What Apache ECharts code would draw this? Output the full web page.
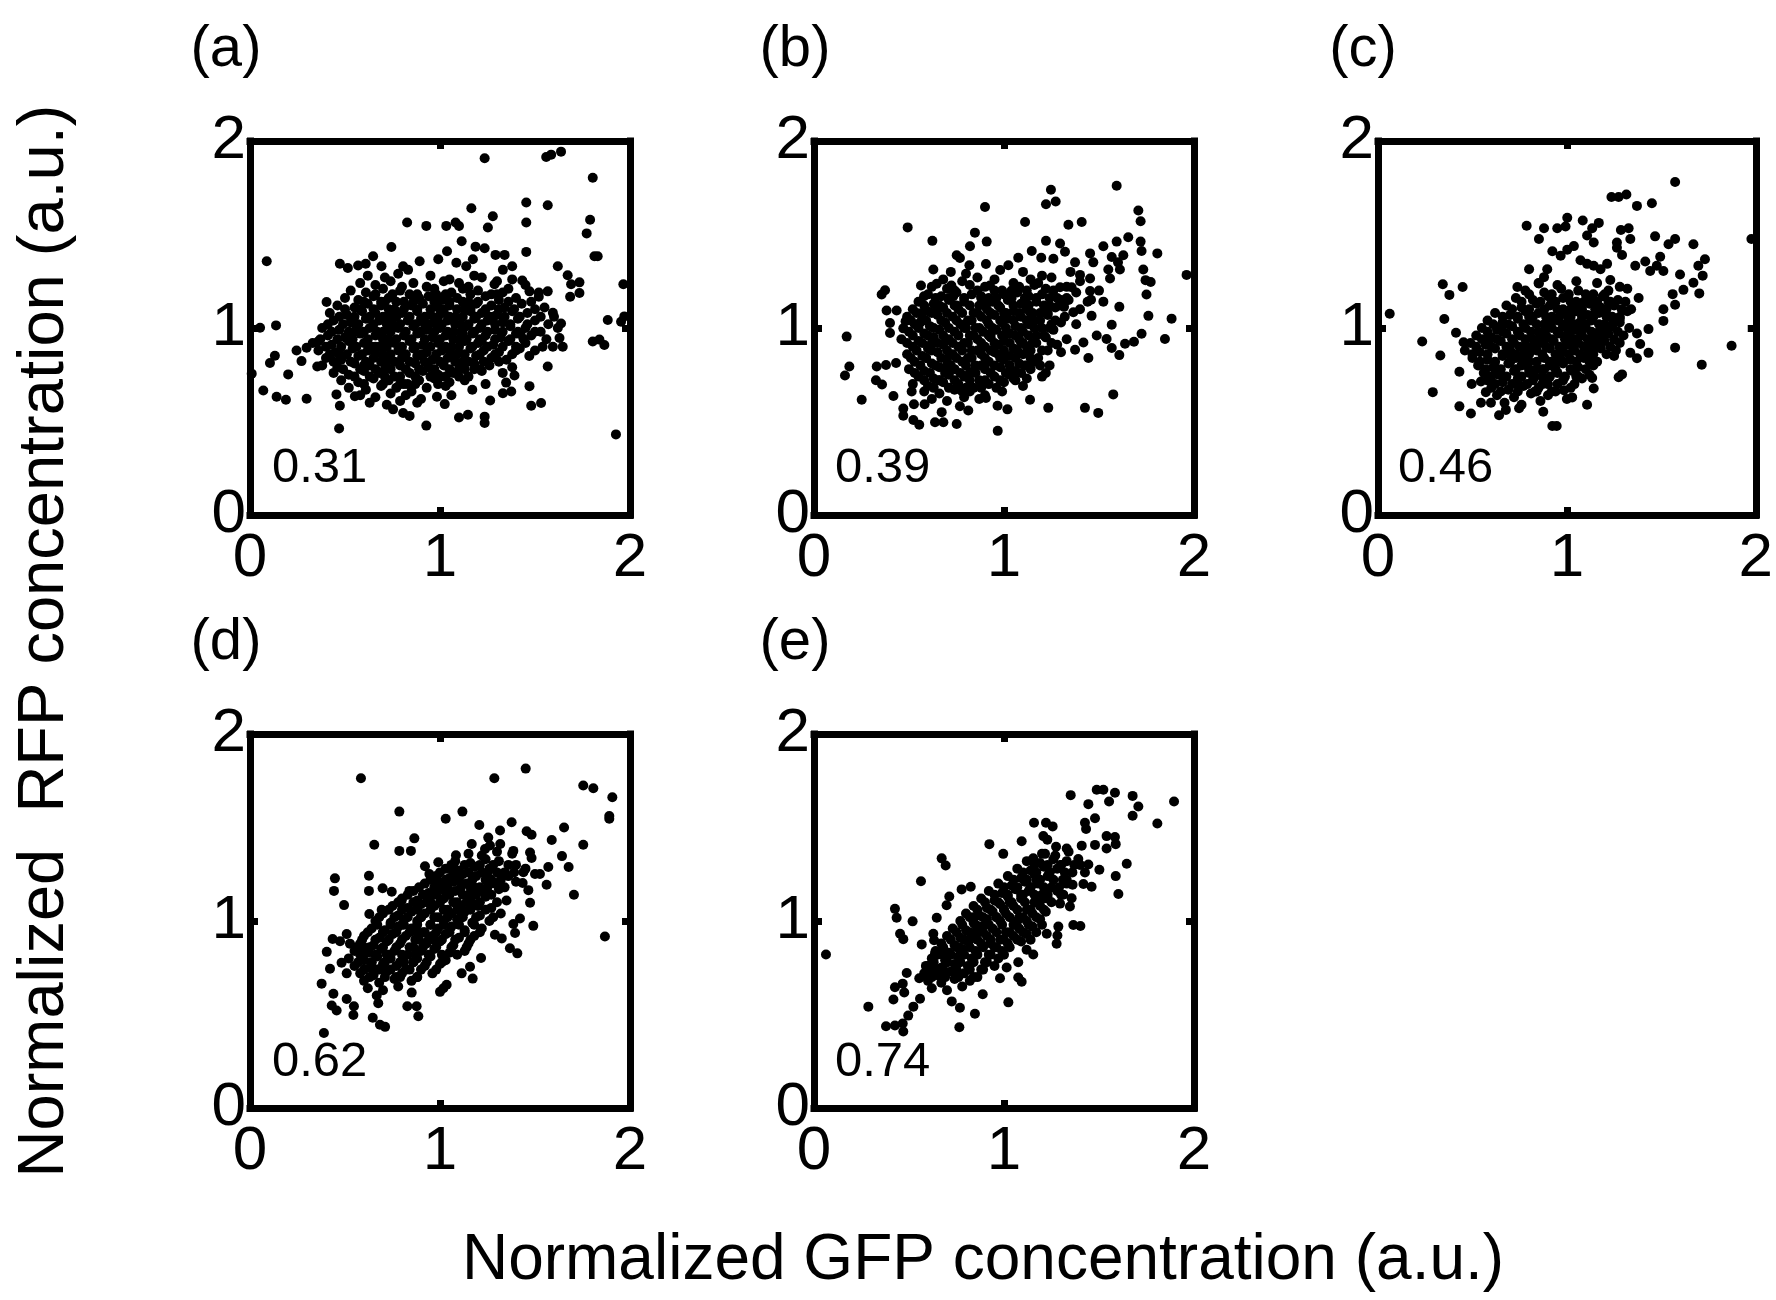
<!DOCTYPE html>
<html>
<head>
<meta charset="utf-8">
<script src="https://cdn.jsdelivr.net/npm/echarts@6/dist/echarts.min.js"></script>
<style>
html,body{margin:0;padding:0;background:#fff;}
#chart{width:1776px;height:1300px;}
</style>
</head>
<body>
<div id="chart"></div>
<script>
// ---------------- DATA ----------------
const panelLabels = ['(a)', '(b)', '(c)', '(d)', '(e)'];
const corrLabels = ['0.31', '0.39', '0.46', '0.62', '0.74'];
const xTitle = 'Normalized GFP concentration (a.u.)';
const yTitle = 'Normalized  RFP concentration (a.u.)';

const pointsA = [
[1.235,1.908],[1.559,1.914],[1.585,1.927],[1.637,1.943],[1.804,1.803],[1.454,1.671],[1.567,1.656],[1.165,1.640],[1.278,1.598],[1.252,1.537],
[0.827,1.564],[0.928,1.546],[1.033,1.546],[1.082,1.564],[1.100,1.545],[1.454,1.564],[1.790,1.579],[1.772,1.506],[1.114,1.464],[0.744,1.433],
[1.454,1.407],[1.813,1.384],[1.830,1.384],[1.187,1.435],[1.235,1.426],[0.088,1.357],[1.292,1.391],[1.340,1.391],[1.037,1.410],[0.991,1.368],
[0.893,1.357],[0.648,1.384],[0.609,1.344],[0.569,1.334],[0.515,1.321],[0.473,1.344],[0.692,1.330],[0.806,1.330],[0.832,1.311],[1.086,1.349],
[1.138,1.330],[1.173,1.368],[1.620,1.330],[1.672,1.282],[1.734,1.244],[1.690,1.234],[1.965,1.234],[1.567,1.196],[1.734,1.187],[1.685,1.167],
[1.520,1.167],[1.471,1.196],[1.433,1.254],[1.380,1.330],[1.331,1.311],[1.287,1.234],[0.403,1.139],[1.883,1.043],[1.970,1.062],[1.953,1.033],
[1.804,0.928],[1.839,0.938],[1.865,0.909],[0.053,1.001],[0.137,1.014],[0.131,0.852],[0.105,0.813],[0.009,0.756],[0.201,0.752],[0.070,0.666],
[0.140,0.632],[0.189,0.616],[0.298,0.622],[0.245,0.880],[0.271,0.823],[0.298,0.894],[0.354,0.794],[0.359,0.928],[0.469,0.463],[0.455,0.645],
[0.473,0.584],[0.552,0.635],[0.928,0.478],[1.100,0.521],[1.147,0.536],[1.235,0.526],[1.235,0.492],[1.926,0.431],[0.840,0.530],[0.806,0.545],
[0.753,0.565],[1.025,0.593],[0.984,0.632],[1.264,0.612],[1.331,0.651],[1.375,0.660],[1.480,0.584],[1.532,0.599],[1.471,0.689],[1.567,0.794],
[1.594,0.900],[1.646,0.900],[1.629,0.947],[1.637,1.024],[1.594,1.081],[1.348,0.708],[1.392,0.746],[1.424,0.967],
[0.62,1.28],[0.71,1.27],[0.78,1.29],[0.95,1.28],[1.05,1.26],[1.18,1.28],[1.22,1.27],[1.38,1.26],
[0.58,1.24],[0.66,1.23],[0.74,1.25],[0.86,1.24],[0.93,1.22],[1.02,1.25],[1.10,1.24],[1.15,1.22],[1.30,1.25],[1.45,1.23],
[0.53,1.20],[0.61,1.19],[0.70,1.21],[0.79,1.20],[0.84,1.18],[0.97,1.21],[1.06,1.19],[1.12,1.21],[1.20,1.20],[1.27,1.18],[1.36,1.21],[1.52,1.19],
[0.50,1.16],[0.57,1.15],[0.65,1.17],[0.73,1.16],[0.81,1.14],[0.89,1.16],[0.94,1.17],[1.01,1.15],[1.09,1.16],[1.15,1.14],[1.24,1.17],[1.31,1.15],[1.40,1.16],[1.48,1.14],
[0.46,1.12],[0.55,1.11],[0.62,1.13],[0.69,1.12],[0.76,1.10],[0.85,1.12],[0.91,1.13],[0.99,1.11],[1.05,1.12],[1.13,1.10],[1.19,1.13],[1.27,1.12],[1.34,1.11],[1.43,1.13],[1.55,1.11],
[0.42,1.08],[0.51,1.07],[0.59,1.09],[0.66,1.08],[0.72,1.06],[0.80,1.08],[0.88,1.09],[0.95,1.07],[1.02,1.08],[1.08,1.06],[1.16,1.09],[1.22,1.08],[1.30,1.07],[1.38,1.09],[1.46,1.08],[1.60,1.06],
[0.44,1.04],[0.53,1.03],[0.61,1.05],[0.68,1.04],[0.75,1.02],[0.83,1.04],[0.90,1.05],[0.97,1.03],[1.04,1.04],[1.11,1.02],[1.18,1.05],[1.25,1.04],[1.33,1.03],[1.41,1.05],[1.50,1.04],[1.57,1.02],
[0.38,1.00],[0.47,0.99],[0.56,1.01],[0.63,1.00],[0.70,0.98],[0.78,1.00],[0.86,1.01],[0.93,0.99],[1.00,1.00],[1.07,0.98],[1.14,1.01],[1.21,1.00],[1.29,0.99],[1.37,1.01],[1.45,1.00],[1.53,0.98],[1.62,1.00],
[0.41,0.96],[0.50,0.95],[0.58,0.97],[0.66,0.96],[0.73,0.94],[0.81,0.96],[0.88,0.97],[0.96,0.95],[1.03,0.96],[1.10,0.94],[1.17,0.97],[1.24,0.96],[1.32,0.95],[1.40,0.97],[1.48,0.96],[1.56,0.94],
[0.33,0.92],[0.43,0.91],[0.52,0.93],[0.60,0.92],[0.68,0.90],[0.76,0.92],[0.84,0.93],[0.91,0.91],[0.99,0.92],[1.06,0.90],[1.13,0.93],[1.20,0.92],[1.28,0.91],[1.36,0.93],[1.45,0.92],[1.54,0.90],
[0.36,0.88],[0.45,0.87],[0.54,0.89],[0.62,0.88],[0.70,0.86],[0.78,0.88],[0.86,0.89],[0.93,0.87],[1.01,0.88],[1.09,0.86],[1.16,0.89],[1.23,0.88],[1.31,0.87],[1.42,0.89],[1.50,0.88],
[0.40,0.84],[0.48,0.83],[0.57,0.85],[0.65,0.84],[0.72,0.82],[0.80,0.84],[0.88,0.85],[0.96,0.83],[1.04,0.84],[1.12,0.82],[1.19,0.85],[1.27,0.84],[1.35,0.83],[1.47,0.85],
[0.38,0.80],[0.46,0.79],[0.55,0.81],[0.63,0.80],[0.71,0.78],[0.79,0.80],[0.87,0.81],[0.94,0.79],[1.02,0.80],[1.10,0.78],[1.18,0.81],[1.26,0.80],[1.38,0.79],
[0.44,0.76],[0.52,0.75],[0.60,0.77],[0.68,0.76],[0.76,0.74],[0.84,0.76],[0.91,0.77],[0.99,0.75],[1.07,0.76],[1.15,0.74],[1.22,0.77],[1.33,0.76],
[0.48,0.72],[0.57,0.71],[0.65,0.73],[0.73,0.72],[0.81,0.70],[0.89,0.72],[0.97,0.73],[1.05,0.71],[1.13,0.72],[1.24,0.70],
[0.52,0.68],[0.61,0.67],[0.69,0.69],[0.77,0.68],[0.85,0.66],[0.93,0.68],[1.03,0.69],[1.17,0.67],
[0.58,0.64],[0.66,0.63],[0.74,0.65],[0.82,0.64],[0.90,0.62],[1.06,0.64],
[0.63,0.60],[0.72,0.59],[0.79,0.61],[0.88,0.60],
[0.55,0.98],[0.74,1.06],[0.90,0.85],[1.12,0.97],[1.28,1.06],[0.66,0.90],[0.98,1.18],[1.18,0.78],[0.83,0.70],[1.40,0.88],
[0.47,0.86],[1.05,0.88],[0.71,1.14],[1.33,1.19],[0.92,1.02],[0.60,0.80],[1.22,0.93],[0.80,1.22],[1.50,1.10],[1.00,0.74],
[0.66,1.18],[0.75,1.18],[0.88,1.18],[1.03,1.18],[1.16,1.18],[1.30,1.18],
[0.60,1.14],[0.69,1.14],[0.77,1.14],[0.86,1.14],[0.97,1.14],[1.05,1.14],[1.12,1.14],[1.20,1.14],[1.36,1.14],
[0.50,1.10],[0.58,1.10],[0.65,1.10],[0.73,1.10],[0.81,1.10],[0.88,1.10],[0.95,1.10],[1.02,1.10],[1.09,1.10],[1.16,1.10],[1.24,1.10],[1.31,1.10],[1.39,1.10],
[0.47,1.06],[0.55,1.06],[0.63,1.06],[0.70,1.06],[0.77,1.06],[0.84,1.06],[0.92,1.06],[0.99,1.06],[1.05,1.06],[1.12,1.06],[1.19,1.06],[1.26,1.06],[1.34,1.06],[1.42,1.06],[1.53,1.06],
[0.41,1.02],[0.49,1.02],[0.57,1.02],[0.65,1.02],[0.72,1.02],[0.79,1.02],[0.87,1.02],[0.94,1.02],[1.01,1.02],[1.08,1.02],[1.15,1.02],[1.22,1.02],[1.29,1.02],[1.37,1.02],[1.46,1.02],
[0.43,0.98],[0.52,0.98],[0.60,0.98],[0.67,0.98],[0.74,0.98],[0.82,0.98],[0.90,0.98],[0.97,0.98],[1.04,0.98],[1.11,0.98],[1.18,0.98],[1.25,0.98],[1.33,0.98],[1.41,0.98],[1.50,0.98],
[0.37,0.94],[0.46,0.94],[0.54,0.94],[0.62,0.94],[0.70,0.94],[0.77,0.94],[0.85,0.94],[0.92,0.94],[1.00,0.94],[1.07,0.94],[1.14,0.94],[1.21,0.94],[1.29,0.94],[1.37,0.94],[1.44,0.94],
[0.40,0.90],[0.48,0.90],[0.56,0.90],[0.64,0.90],[0.72,0.90],[0.80,0.90],[0.87,0.90],[0.95,0.90],[1.03,0.90],[1.10,0.90],[1.17,0.90],[1.25,0.90],[1.33,0.90],[1.40,0.90],
[0.42,0.86],[0.51,0.86],[0.59,0.86],[0.66,0.86],[0.74,0.86],[0.82,0.86],[0.90,0.86],[0.98,0.86],[1.06,0.86],[1.13,0.86],[1.21,0.86],[1.29,0.86],[1.38,0.86],
[0.44,0.82],[0.53,0.82],[0.61,0.82],[0.69,0.82],[0.76,0.82],[0.84,0.82],[0.92,0.82],[1.00,0.82],[1.08,0.82],[1.15,0.82],[1.23,0.82],[1.31,0.82],
[0.49,0.78],[0.58,0.78],[0.66,0.78],[0.74,0.78],[0.82,0.78],[0.89,0.78],[0.97,0.78],[1.05,0.78],[1.13,0.78],[1.21,0.78],
[0.55,0.74],[0.63,0.74],[0.71,0.74],[0.79,0.74],[0.87,0.74],[0.95,0.74],[1.03,0.74],[1.10,0.74],
[0.60,0.70],[0.70,0.70],[0.79,0.70],[0.87,0.70],[0.99,0.70]
];

const pointsB = [
[1.593,1.761],[1.247,1.739],[1.221,1.662],[1.272,1.676],[0.900,1.647],[0.493,1.538],[1.111,1.567],[1.339,1.552],[1.409,1.567],[1.707,1.628],
[1.719,1.571],[0.623,1.466],[0.847,1.510],[0.909,1.462],[0.821,1.437],[1.221,1.466],[1.295,1.452],[1.654,1.485],[1.593,1.462],[1.523,1.437],
[1.719,1.462],[1.807,1.399],[1.724,1.412],[0.751,1.389],[0.768,1.374],[0.905,1.342],[0.818,1.336],[1.146,1.412],[1.196,1.376],[1.260,1.370],
[1.321,1.408],[1.374,1.351],[1.453,1.399],[1.470,1.351],[1.567,1.380],[1.628,1.389],[1.075,1.376],[1.023,1.336],[0.628,1.313],[1.961,1.284],
[1.733,1.313],[1.745,1.256],[1.772,1.246],[1.750,1.179],[1.760,1.065],[1.882,1.050],[1.847,0.941],[1.600,1.351],[1.549,1.313],[1.610,1.313],
[1.558,1.265],[1.453,1.265],[1.453,1.198],[1.458,1.151],[1.461,1.065],[1.400,1.284],[1.295,1.218],[1.356,1.218],[1.316,1.113],[1.365,1.084],
[1.523,1.141],[1.607,1.113],[1.567,1.017],[1.488,0.960],[1.540,0.941],[1.567,0.893],[1.607,0.855],[1.637,0.916],[1.684,0.926],[1.724,0.969],
[1.418,0.922],[1.444,0.840],[1.374,0.884],[1.575,0.645],[1.426,0.573],[1.496,0.546],[1.233,0.573],[1.137,0.616],[0.172,0.954],[0.186,0.794],
[0.163,0.746],[0.251,0.616],[0.374,1.202],[0.356,1.179],[0.382,1.094],[0.435,1.094],[0.400,1.027],[0.400,0.973],[0.470,0.998],[0.482,1.036],
[0.330,0.794],[0.379,0.802],[0.432,0.813],[0.326,0.721],[0.358,0.698],[0.418,0.636],[0.470,0.569],[0.470,0.531],[0.523,0.508],[0.554,0.483],
[0.637,0.496],[0.681,0.496],[0.751,0.487],[0.672,0.550],[0.967,0.450],[1.018,0.565],[0.966,0.584],[0.905,0.626],[0.768,0.582],[0.812,0.559],
[0.526,0.592],[0.582,0.592],[0.514,0.660],[0.563,1.227],[0.579,1.170],[0.646,1.237],[0.567,1.080],[0.646,1.094],[0.723,1.227],[0.733,1.170],[0.926,1.227],
[0.72,1.30],[0.80,1.29],[0.98,1.31],[1.10,1.30],[1.20,1.28],[1.35,1.30],
[0.68,1.26],[0.78,1.25],[0.86,1.27],[0.95,1.26],[1.05,1.24],[1.14,1.26],[1.25,1.27],[1.40,1.25],
[0.62,1.22],[0.70,1.21],[0.82,1.23],[0.90,1.22],[0.99,1.20],[1.08,1.22],[1.16,1.23],[1.22,1.21],[1.33,1.22],[1.50,1.20],
[0.60,1.18],[0.67,1.17],[0.75,1.19],[0.83,1.18],[0.92,1.16],[1.00,1.18],[1.07,1.19],[1.13,1.17],[1.20,1.18],[1.28,1.16],[1.38,1.19],
[0.55,1.14],[0.63,1.13],[0.71,1.15],[0.79,1.14],[0.87,1.12],[0.94,1.14],[1.02,1.15],[1.09,1.13],[1.17,1.14],[1.24,1.12],[1.34,1.15],[1.44,1.14],
[0.52,1.10],[0.60,1.09],[0.68,1.11],[0.76,1.10],[0.84,1.08],[0.91,1.10],[0.98,1.11],[1.05,1.09],[1.12,1.10],[1.19,1.08],[1.27,1.11],[1.40,1.10],
[0.49,1.06],[0.57,1.05],[0.65,1.07],[0.73,1.06],[0.81,1.04],[0.88,1.06],[0.95,1.07],[1.02,1.05],[1.09,1.06],[1.16,1.04],[1.23,1.07],[1.32,1.06],
[0.53,1.02],[0.61,1.01],[0.69,1.03],[0.77,1.02],[0.85,1.00],[0.92,1.02],[0.99,1.03],[1.06,1.01],[1.13,1.02],[1.20,1.00],[1.30,1.03],[1.38,1.02],
[0.50,0.98],[0.58,0.97],[0.66,0.99],[0.74,0.98],[0.82,0.96],[0.89,0.98],[0.96,0.99],[1.03,0.97],[1.10,0.98],[1.17,0.96],[1.26,0.99],
[0.46,0.94],[0.55,0.93],[0.63,0.95],[0.71,0.94],[0.79,0.92],[0.86,0.94],[0.93,0.95],[1.00,0.93],[1.08,0.94],[1.15,0.92],[1.22,0.95],[1.33,0.94],
[0.52,0.90],[0.60,0.89],[0.68,0.91],[0.76,0.90],[0.83,0.88],[0.90,0.90],[0.97,0.91],[1.05,0.89],[1.12,0.90],[1.20,0.88],[1.28,0.91],
[0.49,0.86],[0.57,0.85],[0.65,0.87],[0.73,0.86],[0.81,0.84],[0.88,0.86],[0.95,0.87],[1.03,0.85],[1.10,0.86],[1.18,0.84],[1.30,0.87],
[0.53,0.82],[0.62,0.81],[0.70,0.83],[0.78,0.82],[0.85,0.80],[0.92,0.82],[1.00,0.83],[1.08,0.81],[1.16,0.82],[1.24,0.80],
[0.50,0.78],[0.58,0.77],[0.66,0.79],[0.74,0.78],[0.82,0.76],[0.90,0.78],[0.98,0.79],[1.06,0.77],[1.14,0.78],[1.22,0.76],
[0.55,0.74],[0.63,0.73],[0.71,0.75],[0.79,0.74],[0.87,0.72],[0.95,0.74],[1.03,0.75],[1.12,0.73],[1.20,0.74],
[0.52,0.70],[0.60,0.69],[0.68,0.71],[0.76,0.70],[0.84,0.68],[0.92,0.70],[1.00,0.71],[1.10,0.69],
[0.58,0.66],[0.66,0.65],[0.74,0.67],[0.82,0.66],[0.90,0.64],[0.99,0.66],
[0.62,0.62],[0.70,0.61],[0.79,0.63],[0.87,0.62],
[0.62,0.92],[0.80,1.00],[0.97,0.86],[1.14,1.08],[0.70,0.80],[0.88,1.17],[1.05,0.73],[1.25,1.02],[0.56,1.03],[0.75,1.12],
[0.93,0.97],[1.09,0.92],[0.66,0.72],[1.18,1.24],[0.84,0.77],[1.30,1.15],[0.59,0.84],[1.00,1.08],[0.78,0.66],[1.12,0.80],
[0.74,1.20],[0.86,1.20],[0.95,1.20],[1.04,1.20],[1.12,1.20],[1.26,1.20],
[0.64,1.16],[0.71,1.16],[0.79,1.16],[0.88,1.16],[0.96,1.16],[1.04,1.16],[1.11,1.16],[1.17,1.16],[1.24,1.16],[1.33,1.16],
[0.58,1.12],[0.66,1.12],[0.74,1.12],[0.82,1.12],[0.90,1.12],[0.97,1.12],[1.05,1.12],[1.13,1.12],[1.21,1.12],[1.29,1.12],
[0.54,1.08],[0.62,1.08],[0.70,1.08],[0.78,1.08],[0.86,1.08],[0.93,1.08],[1.01,1.08],[1.08,1.08],[1.15,1.08],[1.23,1.08],
[0.51,1.04],[0.59,1.04],[0.67,1.04],[0.75,1.04],[0.83,1.04],[0.91,1.04],[0.98,1.04],[1.05,1.04],[1.12,1.04],[1.19,1.04],[1.27,1.04],
[0.55,1.00],[0.63,1.00],[0.71,1.00],[0.79,1.00],[0.87,1.00],[0.94,1.00],[1.01,1.00],[1.09,1.00],[1.16,1.00],[1.24,1.00],
[0.52,0.96],[0.60,0.96],[0.68,0.96],[0.76,0.96],[0.84,0.96],[0.92,0.96],[0.99,0.96],[1.06,0.96],[1.13,0.96],[1.21,0.96],
[0.49,0.92],[0.57,0.92],[0.65,0.92],[0.73,0.92],[0.81,0.92],[0.88,0.92],[0.95,0.92],[1.03,0.92],[1.10,0.92],[1.17,0.92],[1.25,0.92],
[0.54,0.88],[0.62,0.88],[0.70,0.88],[0.78,0.88],[0.86,0.88],[0.93,0.88],[1.00,0.88],[1.07,0.88],[1.14,0.88],[1.23,0.88],
[0.51,0.84],[0.59,0.84],[0.67,0.84],[0.75,0.84],[0.83,0.84],[0.90,0.84],[0.98,0.84],[1.06,0.84],[1.14,0.84],
[0.56,0.80],[0.64,0.80],[0.72,0.80],[0.80,0.80],[0.88,0.80],[0.95,0.80],[1.03,0.80],[1.11,0.80],[1.19,0.80],
[0.53,0.76],[0.61,0.76],[0.69,0.76],[0.77,0.76],[0.85,0.76],[0.93,0.76],[1.01,0.76],[1.09,0.76],
[0.58,0.72],[0.66,0.72],[0.74,0.72],[0.82,0.72],[0.90,0.72],[0.98,0.72],[1.06,0.72],
[0.63,0.68],[0.71,0.68],[0.80,0.68],[0.88,0.68],[0.96,0.68]
];

const pointsC = [
[1.573,1.781],[1.236,1.701],[1.274,1.701],[1.315,1.714],[1.371,1.653],[1.450,1.667],[0.787,1.547],[0.879,1.533],[0.852,1.476],[0.949,1.533],
[1.002,1.590],[0.993,1.543],[1.084,1.575],[1.134,1.533],[1.169,1.562],[1.107,1.495],[1.142,1.457],[1.286,1.524],[1.327,1.533],[1.265,1.457],
[1.336,1.476],[1.467,1.490],[1.538,1.448],[1.573,1.476],[1.670,1.448],[1.977,1.476],[0.923,1.410],[0.967,1.387],[1.002,1.419],[1.037,1.438],
[1.265,1.429],[1.292,1.390],[1.494,1.381],[1.476,1.333],[1.415,1.356],[1.362,1.333],[1.441,1.305],[1.511,1.305],[1.731,1.368],[1.696,1.333],
[1.719,1.280],[1.599,1.286],[1.670,1.242],[1.617,1.204],[1.701,1.185],[0.800,1.314],[0.896,1.314],[0.879,1.272],[0.852,1.238],[1.072,1.362],
[1.107,1.343],[1.142,1.333],[1.178,1.314],[1.213,1.343],[1.230,1.257],[0.343,1.234],[0.378,1.177],[0.448,1.219],[0.738,1.219],[0.062,1.076],
[0.351,1.048],[0.234,0.928],[0.413,0.975],[0.330,0.853],[0.453,0.924],[0.290,0.657],[0.431,0.766],[0.431,0.581],[0.492,0.543],[1.573,0.895],
[1.872,0.905],[1.714,0.804],[1.432,0.867],[1.432,0.994],[1.371,0.971],[1.388,0.914],[1.511,1.038],[1.573,1.124],[1.560,1.181],[1.511,1.100],
[1.274,0.737],[1.292,0.752],[1.371,0.838],[1.336,0.867],[0.923,0.476],[0.946,0.476],[0.641,0.533],[0.677,0.562],[0.747,0.571],[0.875,0.552],
[1.107,0.590],[1.142,0.676],[1.134,0.733],[0.545,0.600],[0.598,0.600],[0.496,0.701],[0.545,0.714],[0.571,0.657],[1.028,0.629],[0.984,0.667],
[0.85,1.24],[0.95,1.23],[1.05,1.25],[1.16,1.24],[1.28,1.22],
[0.78,1.20],[0.88,1.19],[0.97,1.21],[1.06,1.20],[1.14,1.18],[1.22,1.20],[1.32,1.21],
[0.73,1.16],[0.82,1.15],[0.90,1.17],[0.98,1.16],[1.05,1.14],[1.12,1.16],[1.19,1.17],[1.27,1.15],[1.38,1.16],
[0.68,1.12],[0.76,1.11],[0.84,1.13],[0.91,1.12],[0.98,1.10],[1.05,1.12],[1.12,1.13],[1.18,1.11],[1.25,1.12],[1.34,1.10],
[0.62,1.08],[0.70,1.07],[0.78,1.09],[0.85,1.08],[0.92,1.06],[0.99,1.08],[1.05,1.09],[1.11,1.07],[1.17,1.08],[1.24,1.06],[1.32,1.09],
[0.58,1.04],[0.66,1.03],[0.74,1.05],[0.81,1.04],[0.88,1.02],[0.95,1.04],[1.01,1.05],[1.07,1.03],[1.13,1.04],[1.20,1.02],[1.28,1.05],
[0.55,1.00],[0.63,0.99],[0.71,1.01],[0.78,1.00],[0.85,0.98],[0.92,1.00],[0.98,1.01],[1.04,0.99],[1.10,1.00],[1.17,0.98],[1.24,1.01],[1.33,1.00],
[0.52,0.96],[0.60,0.95],[0.68,0.97],[0.75,0.96],[0.82,0.94],[0.89,0.96],[0.96,0.97],[1.02,0.95],[1.08,0.96],[1.15,0.94],[1.22,0.97],[1.30,0.96],
[0.49,0.92],[0.57,0.91],[0.65,0.93],[0.72,0.92],[0.79,0.90],[0.86,0.92],[0.93,0.93],[1.00,0.91],[1.06,0.92],[1.13,0.90],[1.20,0.93],[1.28,0.92],
[0.46,0.88],[0.54,0.87],[0.62,0.89],[0.70,0.88],[0.77,0.86],[0.84,0.88],[0.91,0.89],[0.98,0.87],[1.04,0.88],[1.11,0.86],[1.18,0.89],[1.26,0.88],
[0.50,0.84],[0.58,0.83],[0.66,0.85],[0.73,0.84],[0.80,0.82],[0.88,0.84],[0.95,0.85],[1.02,0.83],[1.09,0.84],[1.16,0.82],[1.25,0.85],
[0.53,0.80],[0.61,0.79],[0.69,0.81],[0.76,0.80],[0.84,0.78],[0.91,0.80],[0.98,0.81],[1.06,0.79],[1.14,0.80],
[0.56,0.76],[0.64,0.75],[0.72,0.77],[0.80,0.76],[0.87,0.74],[0.95,0.76],[1.03,0.77],[1.12,0.75],
[0.58,0.72],[0.66,0.71],[0.74,0.73],[0.82,0.72],[0.90,0.70],[0.98,0.72],[1.08,0.73],
[0.60,0.68],[0.69,0.67],[0.77,0.69],[0.85,0.68],[0.94,0.66],[1.02,0.68],
[0.63,0.64],[0.72,0.63],[0.81,0.65],[0.90,0.64],[1.00,0.62],
[0.67,0.60],[0.76,0.59],[0.86,0.61],
[0.70,0.86],[0.88,0.94],[1.02,1.02],[1.16,1.10],[0.62,0.78],[0.80,1.06],[0.95,0.82],[1.10,0.90],[0.74,0.70],[1.22,1.14],
[0.57,0.94],[0.92,1.14],[1.05,0.74],[0.84,0.66],[1.28,1.03],[0.66,1.02],[1.00,0.96],[0.78,0.90],[1.14,0.97],[0.88,0.78],
[0.80,1.18],[0.92,1.18],[1.01,1.18],[1.10,1.18],[1.20,1.18],
[0.76,1.14],[0.86,1.14],[0.94,1.14],[1.02,1.14],[1.09,1.14],[1.16,1.14],[1.23,1.14],[1.31,1.14],
[0.71,1.10],[0.80,1.10],[0.88,1.10],[0.95,1.10],[1.02,1.10],[1.08,1.10],[1.15,1.10],[1.21,1.10],[1.29,1.10],
[0.66,1.06],[0.74,1.06],[0.82,1.06],[0.89,1.06],[0.96,1.06],[1.02,1.06],[1.08,1.06],[1.14,1.06],[1.21,1.06],[1.28,1.06],
[0.61,1.02],[0.69,1.02],[0.77,1.02],[0.84,1.02],[0.91,1.02],[0.98,1.02],[1.04,1.02],[1.10,1.02],[1.17,1.02],[1.24,1.02],
[0.58,0.98],[0.66,0.98],[0.74,0.98],[0.81,0.98],[0.88,0.98],[0.95,0.98],[1.01,0.98],[1.07,0.98],[1.13,0.98],[1.20,0.98],[1.27,0.98],
[0.55,0.94],[0.63,0.94],[0.71,0.94],[0.78,0.94],[0.85,0.94],[0.92,0.94],[0.99,0.94],[1.05,0.94],[1.11,0.94],[1.18,0.94],[1.25,0.94],
[0.52,0.90],[0.60,0.90],[0.68,0.90],[0.75,0.90],[0.82,0.90],[0.89,0.90],[0.96,0.90],[1.03,0.90],[1.09,0.90],[1.16,0.90],[1.23,0.90],
[0.50,0.86],[0.58,0.86],[0.66,0.86],[0.73,0.86],[0.80,0.86],[0.87,0.86],[0.94,0.86],[1.01,0.86],[1.07,0.86],[1.14,0.86],[1.21,0.86],
[0.54,0.82],[0.62,0.82],[0.70,0.82],[0.77,0.82],[0.84,0.82],[0.91,0.82],[0.98,0.82],[1.05,0.82],[1.12,0.82],
[0.57,0.78],[0.65,0.78],[0.73,0.78],[0.80,0.78],[0.87,0.78],[0.94,0.78],[1.02,0.78],[1.10,0.78],
[0.60,0.74],[0.68,0.74],[0.76,0.74],[0.83,0.74],[0.91,0.74],[0.99,0.74],[1.06,0.74],
[0.62,0.70],[0.71,0.70],[0.79,0.70],[0.87,0.70],[0.95,0.70],[1.04,0.70],
[0.65,0.66],[0.74,0.66],[0.83,0.66],[0.92,0.66]
];

const pointsD = [
[0.584,1.763],[1.286,1.763],[1.451,1.815],[1.754,1.725],[1.807,1.710],[1.907,1.662],[1.891,1.561],[1.891,1.547],[0.786,1.585],[1.030,1.547],
[1.118,1.585],[1.207,1.513],[1.377,1.528],[1.316,1.484],[1.456,1.480],[1.482,1.461],[1.653,1.500],[0.865,1.442],[0.654,1.408],[0.786,1.375],
[0.847,1.375],[1.588,1.433],[1.754,1.408],[1.642,1.347],[1.677,1.289],[1.254,1.446],[1.167,1.412],[1.317,1.412],[1.237,1.385],[1.263,1.404],
[1.386,1.375],[1.474,1.366],[1.482,1.337],[1.084,1.352],[0.991,1.314],[0.921,1.293],[0.944,1.251],[0.991,1.213],[1.070,1.289],[0.447,1.228],
[0.442,1.161],[0.495,1.085],[0.626,1.242],[0.626,1.161],[0.698,1.175],[0.746,1.156],[0.798,1.108],[0.839,1.161],[0.628,1.037],[0.693,1.060],
[1.491,0.974],[1.868,0.917],[1.705,1.140],[1.474,1.098],[1.421,1.013],[1.570,1.289],[1.561,1.194],[1.526,1.251],[1.500,1.251],[1.439,1.261],
[1.435,1.203],[1.465,1.165],[0.404,0.835],[0.435,0.904],[0.474,0.892],[0.509,0.930],[0.526,0.879],[0.482,0.777],[0.421,0.745],[0.509,0.720],
[0.377,0.665],[0.439,0.611],[0.430,0.548],[0.456,0.521],[0.509,0.583],[0.547,0.544],[0.544,0.497],[0.389,0.401],[0.646,0.483],[0.684,0.445],
[0.711,0.434],[0.675,0.560],[0.667,0.602],[0.828,0.544],[0.877,0.544],[0.886,0.491],[0.851,0.617],[1.000,0.621],[1.035,0.659],[1.018,0.640],
[1.172,0.692],[1.114,0.720],[1.158,0.755],[1.216,0.802],[1.289,0.926],[1.325,0.907],[1.395,0.936],[1.368,0.854],[1.407,0.827],[1.386,0.984],
[1.15,1.36],[1.22,1.35],[1.30,1.37],[1.38,1.36],
[1.08,1.32],[1.16,1.31],[1.24,1.33],[1.31,1.32],[1.40,1.30],
[1.03,1.28],[1.10,1.27],[1.18,1.29],[1.26,1.28],[1.34,1.26],[1.45,1.28],
[0.98,1.24],[1.05,1.23],[1.12,1.25],[1.19,1.24],[1.27,1.22],[1.36,1.24],
[0.92,1.20],[1.00,1.19],[1.07,1.21],[1.14,1.20],[1.21,1.18],[1.29,1.20],[1.40,1.21],
[0.86,1.16],[0.94,1.15],[1.01,1.17],[1.08,1.16],[1.15,1.14],[1.22,1.16],[1.31,1.17],
[0.80,1.12],[0.88,1.11],[0.95,1.13],[1.02,1.12],[1.09,1.10],[1.16,1.12],[1.24,1.13],[1.35,1.11],
[0.75,1.08],[0.83,1.07],[0.90,1.09],[0.97,1.08],[1.04,1.06],[1.11,1.08],[1.18,1.09],[1.27,1.07],
[0.70,1.04],[0.78,1.03],[0.85,1.05],[0.92,1.04],[0.99,1.02],[1.06,1.04],[1.13,1.05],[1.21,1.03],[1.32,1.04],
[0.66,1.00],[0.74,0.99],[0.81,1.01],[0.88,1.00],[0.95,0.98],[1.02,1.00],[1.09,1.01],[1.17,0.99],[1.26,1.00],
[0.64,0.96],[0.71,0.95],[0.78,0.97],[0.85,0.96],[0.92,0.94],[0.99,0.96],[1.06,0.97],[1.13,0.95],[1.22,0.96],
[0.60,0.92],[0.68,0.91],[0.75,0.93],[0.82,0.92],[0.89,0.90],[0.96,0.92],[1.03,0.93],[1.10,0.91],[1.18,0.92],
[0.58,0.88],[0.65,0.87],[0.72,0.89],[0.79,0.88],[0.86,0.86],[0.93,0.88],[1.00,0.89],[1.07,0.87],[1.15,0.88],
[0.55,0.84],[0.62,0.83],[0.69,0.85],[0.76,0.84],[0.83,0.82],[0.90,0.84],[0.97,0.85],[1.05,0.83],[1.13,0.84],
[0.52,0.80],[0.60,0.79],[0.67,0.81],[0.74,0.80],[0.81,0.78],[0.88,0.80],[0.95,0.81],[1.03,0.79],
[0.55,0.76],[0.63,0.75],[0.70,0.77],[0.77,0.76],[0.84,0.74],[0.92,0.76],[1.00,0.77],
[0.58,0.72],[0.65,0.71],[0.72,0.73],[0.80,0.72],[0.88,0.70],[0.96,0.72],
[0.60,0.68],[0.68,0.67],[0.76,0.69],[0.85,0.68],
[0.62,0.64],[0.70,0.63],[0.78,0.65],
[0.72,0.82],[0.88,0.94],[1.02,1.06],[1.16,1.18],[0.64,0.78],[0.80,0.98],[0.95,1.10],[1.08,1.22],[0.70,0.94],[0.86,0.78],
[1.12,1.02],[1.25,1.26],[0.60,0.86],[0.97,0.90],[1.04,1.14],[0.77,0.70],[1.20,1.08],[0.90,1.02],[1.30,1.20],[0.68,0.74],
[1.06,1.30],[1.13,1.30],[1.21,1.30],[1.28,1.30],[1.36,1.30],
[1.00,1.26],[1.07,1.26],[1.15,1.26],[1.22,1.26],[1.30,1.26],[1.39,1.26],
[0.95,1.22],[1.03,1.22],[1.10,1.22],[1.17,1.22],[1.24,1.22],[1.32,1.22],
[0.89,1.18],[0.97,1.18],[1.04,1.18],[1.11,1.18],[1.18,1.18],[1.25,1.18],[1.34,1.18],
[0.83,1.14],[0.91,1.14],[0.98,1.14],[1.05,1.14],[1.12,1.14],[1.19,1.14],[1.27,1.14],
[0.78,1.10],[0.86,1.10],[0.93,1.10],[1.00,1.10],[1.07,1.10],[1.14,1.10],[1.21,1.10],[1.30,1.10],
[0.73,1.06],[0.80,1.06],[0.88,1.06],[0.95,1.06],[1.02,1.06],[1.09,1.06],[1.16,1.06],[1.24,1.06],
[0.68,1.02],[0.76,1.02],[0.83,1.02],[0.90,1.02],[0.97,1.02],[1.04,1.02],[1.11,1.02],[1.19,1.02],[1.28,1.02],
[0.67,0.98],[0.74,0.98],[0.81,0.98],[0.88,0.98],[0.95,0.98],[1.02,0.98],[1.10,0.98],[1.18,0.98],
[0.62,0.94],[0.70,0.94],[0.77,0.94],[0.84,0.94],[0.91,0.94],[0.98,0.94],[1.05,0.94],[1.13,0.94],[1.21,0.94],
[0.59,0.90],[0.66,0.90],[0.73,0.90],[0.80,0.90],[0.87,0.90],[0.94,0.90],[1.01,0.90],[1.08,0.90],[1.16,0.90],
[0.56,0.86],[0.63,0.86],[0.70,0.86],[0.77,0.86],[0.84,0.86],[0.91,0.86],[0.98,0.86],[1.06,0.86],[1.14,0.86],
[0.58,0.82],[0.66,0.82],[0.73,0.82],[0.80,0.82],[0.87,0.82],[0.94,0.82],[1.01,0.82],[1.09,0.82],
[0.57,0.78],[0.64,0.78],[0.71,0.78],[0.79,0.78],[0.86,0.78],[0.93,0.78],[1.01,0.78],
[0.60,0.74],[0.67,0.74],[0.74,0.74],[0.82,0.74],[0.90,0.74],[0.98,0.74],
[0.63,0.70],[0.71,0.70],[0.79,0.70],[0.88,0.70]
];

const pointsE = [
[0.063,0.821],[0.286,0.542],[0.379,0.437],[0.426,0.441],[0.470,0.409],[0.467,0.452],[0.496,0.494],[0.523,0.542],[0.418,0.580],[0.426,0.646],
[0.467,0.665],[0.475,0.618],[0.558,0.584],[0.765,0.432],[0.847,0.504],[0.768,0.536],[0.725,0.570],[1.023,0.565],[0.888,0.608],[1.075,0.698],
[1.093,0.675],[0.979,0.694],[1.014,0.751],[0.488,0.722],[0.554,0.694],[0.589,0.760],[0.567,0.875],[0.453,0.932],[0.470,0.903],[0.519,0.998],
[0.426,1.065],[0.435,1.017],[0.563,1.213],[0.672,1.335],[0.693,1.297],[0.777,1.169],[0.825,1.183],[0.712,1.131],[0.698,1.084],[0.646,1.017],
[0.628,0.932],[0.632,0.897],[0.637,0.827],[0.923,1.411],[0.996,1.359],[1.093,1.426],[1.158,1.525],[1.221,1.525],[1.256,1.506],[1.207,1.454],
[1.228,1.435],[1.216,1.359],[1.154,1.335],[1.351,1.673],[1.444,1.625],[1.488,1.702],[1.523,1.702],[1.553,1.639],[1.584,1.686],[1.677,1.669],
[1.707,1.612],[1.677,1.563],[1.895,1.639],[1.807,1.521],[1.426,1.525],[1.432,1.492],[1.479,1.549],[1.540,1.454],[1.584,1.449],[1.588,1.411],
[1.540,1.388],[1.479,1.407],[1.409,1.403],[1.330,1.388],[1.274,1.397],[1.646,1.306],[1.588,1.240],[1.602,1.144],[1.502,1.274],[1.444,1.302],
[1.391,1.331],[1.426,1.259],[1.461,1.183],[1.418,1.198],[1.361,1.194],[1.365,0.979],[1.402,0.973],[1.286,0.970],[1.281,0.922],[1.277,0.878],
[1.225,0.932],[1.154,0.821],[1.119,0.846],[1.075,0.779],[1.347,1.078],[1.356,1.122],[1.295,1.093],[1.312,1.141],
[1.20,1.36],[1.27,1.35],[1.34,1.37],
[1.12,1.32],[1.19,1.31],[1.26,1.33],[1.33,1.32],[1.40,1.30],
[1.07,1.28],[1.14,1.27],[1.21,1.29],[1.28,1.28],[1.36,1.26],
[1.02,1.24],[1.09,1.23],[1.16,1.25],[1.23,1.24],[1.31,1.22],
[0.97,1.20],[1.04,1.19],[1.11,1.21],[1.18,1.20],[1.25,1.18],[1.33,1.20],
[0.92,1.16],[0.99,1.15],[1.06,1.17],[1.13,1.16],[1.20,1.14],[1.28,1.16],
[0.88,1.12],[0.95,1.11],[1.02,1.13],[1.09,1.12],[1.16,1.10],[1.23,1.12],
[0.84,1.08],[0.91,1.07],[0.98,1.09],[1.05,1.08],[1.12,1.06],[1.19,1.08],
[0.80,1.04],[0.87,1.03],[0.94,1.05],[1.01,1.04],[1.08,1.02],[1.15,1.04],[1.22,1.05],
[0.77,1.00],[0.84,0.99],[0.91,1.01],[0.98,1.00],[1.05,0.98],[1.12,1.00],[1.19,1.01],
[0.73,0.96],[0.80,0.95],[0.87,0.97],[0.94,0.96],[1.01,0.94],[1.08,0.96],[1.15,0.97],
[0.70,0.92],[0.77,0.91],[0.84,0.93],[0.91,0.92],[0.98,0.90],[1.05,0.92],[1.12,0.93],
[0.67,0.88],[0.74,0.87],[0.81,0.89],[0.88,0.88],[0.95,0.86],[1.02,0.88],[1.09,0.89],
[0.64,0.84],[0.71,0.83],[0.78,0.85],[0.85,0.84],[0.92,0.82],[0.99,0.84],
[0.62,0.80],[0.69,0.79],[0.76,0.81],[0.83,0.80],[0.90,0.78],[0.97,0.80],
[0.60,0.76],[0.67,0.75],[0.74,0.77],[0.81,0.76],[0.88,0.74],[0.95,0.76],
[0.58,0.72],[0.65,0.71],[0.72,0.73],[0.79,0.72],[0.86,0.70],
[0.60,0.68],[0.67,0.67],[0.74,0.69],[0.82,0.68],
[0.62,0.64],[0.70,0.63],[0.78,0.65],
[0.70,0.78],[0.82,0.90],[0.96,1.02],[1.10,1.14],[1.24,1.26],[0.76,0.86],[0.90,0.98],[1.03,1.10],[1.17,1.22],[0.64,0.74],
[0.86,0.94],[1.00,1.06],[1.14,1.18],[0.78,0.82],[0.93,0.88],[1.07,1.00],[1.21,1.12],[0.68,0.82],[0.84,1.02],[1.30,1.30],
[1.16,1.30],[1.23,1.30],[1.30,1.30],[1.37,1.30],
[1.10,1.26],[1.17,1.26],[1.24,1.26],[1.32,1.26],
[1.05,1.22],[1.12,1.22],[1.19,1.22],[1.26,1.22],[1.33,1.22],
[1.00,1.18],[1.07,1.18],[1.14,1.18],[1.21,1.18],[1.29,1.18],
[0.95,1.14],[1.02,1.14],[1.09,1.14],[1.16,1.14],[1.23,1.14],[1.30,1.14],
[0.90,1.10],[0.97,1.10],[1.04,1.10],[1.11,1.10],[1.18,1.10],[1.25,1.10],
[0.86,1.06],[0.93,1.06],[1.00,1.06],[1.07,1.06],[1.14,1.06],[1.21,1.06],
[0.82,1.02],[0.89,1.02],[0.96,1.02],[1.03,1.02],[1.10,1.02],[1.17,1.02],
[0.78,0.98],[0.85,0.98],[0.92,0.98],[0.99,0.98],[1.06,0.98],[1.13,0.98],[1.20,0.98],
[0.75,0.94],[0.82,0.94],[0.89,0.94],[0.96,0.94],[1.03,0.94],[1.10,0.94],[1.17,0.94],
[0.72,0.90],[0.79,0.90],[0.86,0.90],[0.93,0.90],[1.00,0.90],[1.07,0.90],[1.14,0.90],
[0.68,0.86],[0.75,0.86],[0.82,0.86],[0.89,0.86],[0.96,0.86],[1.03,0.86],
[0.65,0.82],[0.72,0.82],[0.79,0.82],[0.86,0.82],[0.93,0.82],[1.00,0.82],
[0.63,0.78],[0.70,0.78],[0.77,0.78],[0.84,0.78],[0.91,0.78],
[0.61,0.74],[0.68,0.74],[0.75,0.74],[0.82,0.74],[0.89,0.74],
[0.62,0.70],[0.69,0.70],[0.76,0.70],[0.84,0.70]
];

const allPoints = [pointsA, pointsB, pointsC, pointsD, pointsE];

// ---------------- LAYOUT ----------------
const FONT = '"Liberation Sans", Arial, Helvetica, sans-serif';
const boxes = [
  {left: 250, top: 141},
  {left: 814, top: 141},
  {left: 1378, top: 141},
  {left: 250, top: 734},
  {left: 814, top: 734}
];
const BW = 380, BH = 374;
const labelPos = [[226, 50], [795, 50], [1363, 50], [226, 643], [795, 643]];
const corrPos = [[272, 468], [835, 468], [1398, 468], [272, 1062], [835, 1062]];

const lineStyle = {color: '#000', width: 7, cap: 'square'};
const grid = [], xAxis = [], yAxis = [], series = [], graphic = [];

boxes.forEach((b, i) => {
  grid.push({left: b.left, top: b.top, width: BW, height: BH, containLabel: false});
  const common = {
    gridIndex: i, type: 'value', min: 0, max: 2, interval: 1,
    splitLine: {show: false},
    axisLine: {show: true, onZero: false, lineStyle: lineStyle},
    axisTick: {show: true, inside: true, length: 8, lineStyle: {color: '#000', width: 7}}
  };
  xAxis.push(Object.assign({}, common, {
    position: 'bottom',
    axisLabel: {show: true, color: '#000', fontSize: 62, fontFamily: FONT, margin: 13, showMinLabel: true, showMaxLabel: true}
  }));
  xAxis.push(Object.assign({}, common, {position: 'top', axisLabel: {show: false}}));
  yAxis.push(Object.assign({}, common, {
    position: 'left',
    axisLabel: {show: true, color: '#000', fontSize: 62, fontFamily: FONT, margin: 4, showMinLabel: true, showMaxLabel: true}
  }));
  yAxis.push(Object.assign({}, common, {position: 'right', axisLabel: {show: false}}));

  series.push({
    type: 'scatter',
    xAxisIndex: 2 * i, yAxisIndex: 2 * i,
    data: allPoints[i],
    symbol: 'circle', symbolSize: 10,
    itemStyle: {color: '#000', opacity: 1},
    silent: true, clip: false
  });

  graphic.push({
    type: 'text', x: labelPos[i][0], y: labelPos[i][1],
    style: {text: panelLabels[i], font: '58px ' + FONT, fill: '#000',
      textAlign: 'center', textVerticalAlign: 'middle', align: 'center', verticalAlign: 'middle'}
  });
  graphic.push({
    type: 'text', x: corrPos[i][0], y: corrPos[i][1],
    style: {text: corrLabels[i], font: '49px ' + FONT, fill: '#000',
      textAlign: 'left', textVerticalAlign: 'middle', align: 'left', verticalAlign: 'middle'}
  });
});

graphic.push({
  type: 'text', x: 983, y: 1261,
  style: {text: xTitle, font: '64px ' + FONT, fill: '#000',
    textAlign: 'center', textVerticalAlign: 'middle', align: 'center', verticalAlign: 'middle'}
});
graphic.push({
  type: 'text', x: 45, y: 641, rotation: Math.PI / 2,
  style: {text: yTitle, font: '65px ' + FONT, fill: '#000',
    textAlign: 'center', textVerticalAlign: 'middle', align: 'center', verticalAlign: 'middle'}
});

const chart = echarts.init(document.getElementById('chart'), null, {renderer: 'canvas'});
chart.setOption({
  backgroundColor: '#fff',
  animation: false,
  grid: grid, xAxis: xAxis, yAxis: yAxis, series: series, graphic: graphic
});
</script>
</body>
</html>
